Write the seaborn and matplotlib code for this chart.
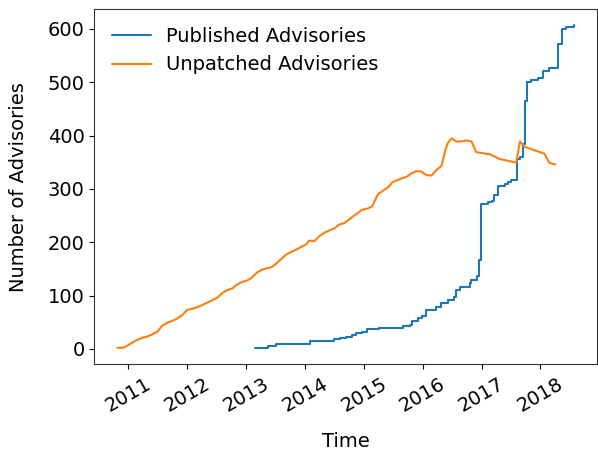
import numpy as np
import pandas as pd
from matplotlib import pyplot as plt
import seaborn as sns

# decimal years
pub_years = [2013.15, 2013.37, 2013.50, 2014.08, 2014.50, 2014.60, 2014.70, 2014.80,
             2014.86, 2014.97, 2015.06, 2015.25, 2015.67, 2015.78, 2015.81, 2015.92,
             2015.98, 2016.06, 2016.23, 2016.31, 2016.43, 2016.53, 2016.56, 2016.64,
             2016.80, 2016.83, 2016.93, 2016.95, 2016.99, 2017.11, 2017.17, 2017.21,
             2017.28, 2017.39, 2017.45, 2017.50, 2017.60, 2017.65, 2017.70, 2017.74,
             2017.77, 2017.84, 2017.95, 2018.05, 2018.15, 2018.30, 2018.37, 2018.43,
             2018.57]
pub_counts = [1, 5, 10, 14, 18, 21, 23, 26,
              29, 32, 37, 40, 43, 45, 53, 57,
              62, 73, 79, 86, 91, 97, 110, 116,
              123, 129, 137, 167, 272, 275, 278, 288,
              306, 310, 313, 317, 357, 360, 385, 465,
              500, 504, 508, 521, 526, 571, 600, 603,
              607]

unp_years = [2010.81, 2010.91, 2010.98, 2011.07, 2011.15, 2011.24, 2011.32, 2011.40,
             2011.49, 2011.57, 2011.66, 2011.74, 2011.83, 2011.91, 2012.00, 2012.08,
             2012.17, 2012.25, 2012.33, 2012.42, 2012.51, 2012.59, 2012.67, 2012.76,
             2012.84, 2012.92, 2013.01, 2013.09, 2013.18, 2013.26, 2013.34, 2013.43,
             2013.51, 2013.60, 2013.68, 2013.77, 2013.85, 2013.93, 2014.02, 2014.07,
             2014.16, 2014.24, 2014.33, 2014.41, 2014.50, 2014.58, 2014.67, 2014.80,
             2014.97, 2015.06, 2015.14, 2015.24, 2015.33, 2015.41, 2015.49, 2015.56,
             2015.65, 2015.73, 2015.81, 2015.89, 2015.97, 2016.06, 2016.15, 2016.23,
             2016.32, 2016.39, 2016.43, 2016.49, 2016.57, 2016.66, 2016.74, 2016.83,
             2016.91, 2017.14, 2017.31, 2017.56, 2017.59, 2017.65, 2017.73, 2018.07,
             2018.15, 2018.25]
unp_counts = [2, 2, 6, 12, 17, 21, 23, 27,
              32, 43, 49, 52, 57, 63, 73, 75,
              78, 82, 86, 91, 96, 104, 110, 113,
              120, 125, 128, 133, 143, 148, 151, 153,
              160, 169, 177, 182, 186, 191, 196, 203,
              202, 211, 218, 222, 226, 233, 236, 247,
              261, 263, 267, 290, 297, 303, 313, 316,
              320, 323, 329, 333, 333, 326, 325, 335,
              343, 375, 386, 395, 389, 389, 391, 389,
              369, 365, 356, 350, 350, 389, 379, 366,
              349, 346]


def to_dates(years):
    years = np.asarray(years)
    base = pd.to_datetime([f"{int(y)}-01-01" for y in years])
    return base + pd.to_timedelta((years - years.astype(int)) * 365.25, unit="D")


pub = pd.DataFrame({"date": to_dates(pub_years), "count": pub_counts})
unp = pd.DataFrame({"date": to_dates(unp_years), "count": unp_counts})

sns.set_style("ticks", {"axes.edgecolor": "0.2", "text.color": "black",
                        "axes.labelcolor": "black", "xtick.color": "black",
                        "ytick.color": "black"})
plt.rcParams["font.family"] = ["DejaVu Sans"]

fig, ax = plt.subplots(figsize=(5.98, 4.55), dpi=100)
sns.lineplot(data=pub, x="date", y="count", ax=ax, color="#1f77b4",
             label="Published Advisories", drawstyle="steps-post", linewidth=1.5)
sns.lineplot(data=unp, x="date", y="count", ax=ax, color="#ff7f0e",
             label="Unpatched Advisories", linewidth=1.5)

ax.set_xlabel("Time", fontsize=14, labelpad=12)
ax.set_ylabel("Number of Advisories", fontsize=14, labelpad=14)
ax.tick_params(labelsize=14)
plt.setp(ax.get_xticklabels(), rotation=30)
ax.legend(loc="upper left", frameon=False, fontsize=14)

plt.subplots_adjust(left=0.158, right=0.998, bottom=0.199, top=0.980)
plt.savefig("out.png")
